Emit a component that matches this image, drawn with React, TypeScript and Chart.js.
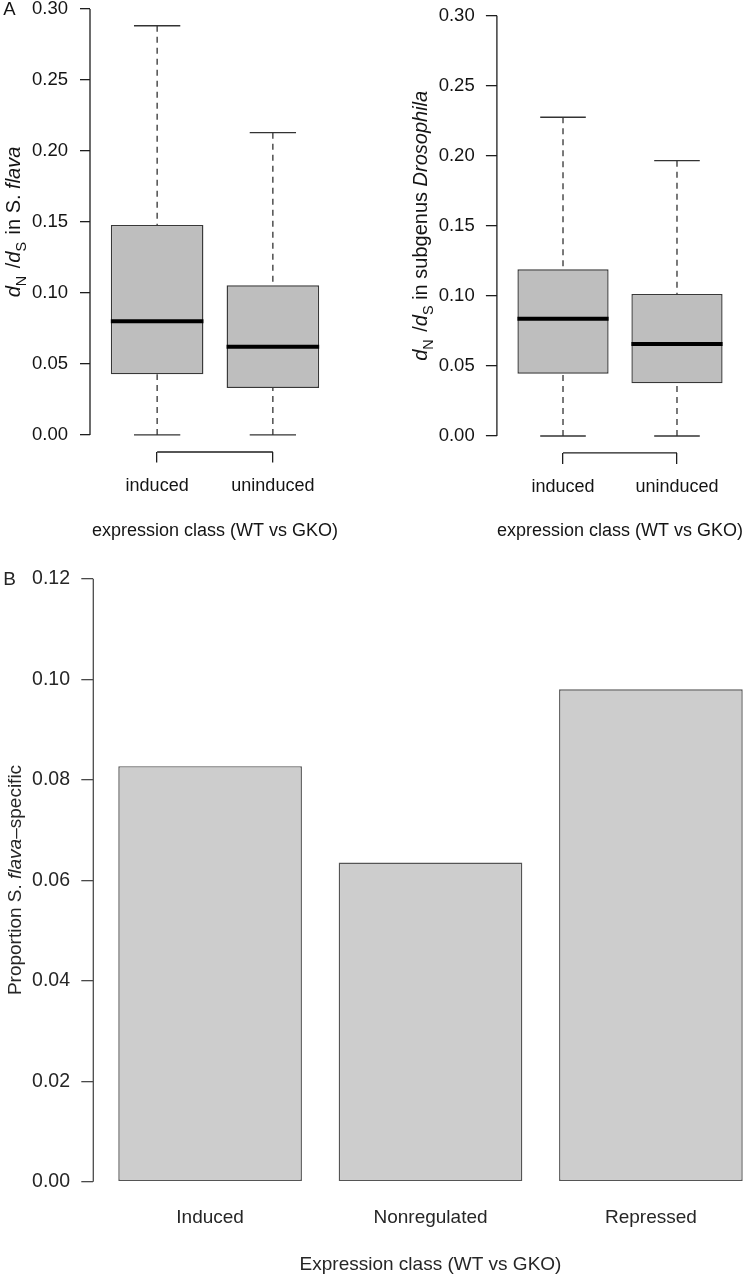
import React, { useEffect, useRef } from "react";
import { Chart, registerables } from "chart.js";

Chart.register(...registerables);

const FONT = "'Liberation Sans', Arial, Helvetica, sans-serif";

// ---------------- Panel A data ----------------
const boxCategories = ["induced", "uninduced"];
const boxYTicks = [0, 0.05, 0.1, 0.15, 0.2, 0.25, 0.3];

// dN/dS in S. flava
const flavaMin = [0, 0];
const flavaQ1 = [0.0427, 0.0331];
const flavaMedian = [0.0801, 0.0622];
const flavaQ3 = [0.1479, 0.1054];
const flavaMax = [0.2882, 0.2129];

// dN/dS in subgenus Drosophila
const drosMin = [0, 0];
const drosQ1 = [0.0445, 0.0376];
const drosMedian = [0.0837, 0.0657];
const drosQ3 = [0.119, 0.1014];
const drosMax = [0.2275, 0.1965];

const boxXTitle = "expression class (WT vs GKO)";

// ---------------- Panel B data ----------------
const barCategories = ["Induced", "Nonregulated", "Repressed"];
const barValues = [0.0827, 0.0635, 0.098];
const barYTicks = [0, 0.02, 0.04, 0.06, 0.08, 0.1, 0.12];
const barXTitle = "Expression class (WT vs GKO)";

// ---------------- helpers ----------------
type Run = { text: string; italic?: boolean; sub?: boolean; gap?: number };

const flavaTitle: Run[] = [
  { text: "d", italic: true },
  { text: "N", sub: true },
  { text: " /", gap: 2 },
  { text: "d", italic: true },
  { text: "S", sub: true },
  { text: " in S. ", gap: 2 },
  { text: "flava", italic: true },
];
const drosTitle: Run[] = [
  { text: "d", italic: true },
  { text: "N", sub: true },
  { text: " /", gap: 2 },
  { text: "d", italic: true },
  { text: "S", sub: true },
  { text: " in subgenus " },
  { text: "Drosophila", italic: true },
];
const barTitle: Run[] = [
  { text: "Proportion S. " },
  { text: "flava", italic: true },
  { text: "\u2013specific" },
];

function drawVerticalRich(
  ctx: CanvasRenderingContext2D,
  runs: Run[],
  baselineX: number,
  centerY: number,
  size: number,
  color: string
) {
  ctx.save();
  ctx.translate(baselineX, centerY);
  ctx.rotate(-Math.PI / 2);
  ctx.fillStyle = color;
  ctx.textBaseline = "alphabetic";
  ctx.textAlign = "left";
  const fontOf = (r: Run) =>
    `${r.italic ? "italic " : ""}${r.sub ? size * 0.72 : size}px ${FONT}`;
  const widths = runs.map((r) => {
    ctx.font = fontOf(r);
    return ctx.measureText(r.text).width + (r.gap || 0);
  });
  const total = widths.reduce((a, b) => a + b, 0);
  let x = -total / 2;
  runs.forEach((r, i) => {
    ctx.font = fontOf(r);
    ctx.fillText(r.text, x + (r.gap || 0), r.sub ? size * 0.28 : 0);
    x += widths[i];
  });
  ctx.restore();
}

function seg(ctx: CanvasRenderingContext2D, x1: number, y1: number, x2: number, y2: number) {
  ctx.beginPath();
  ctx.moveTo(x1, y1);
  ctx.lineTo(x2, y2);
  ctx.stroke();
}

interface BoxSpec {
  min: number[];
  q1: number[];
  med: number[];
  q3: number[];
  max: number[];
  title: Run[];
  letter?: string;
  yAxisWidth: number;
  padRight: number;
  padTop: number;
  xAxisHeight: number;
  xTickLen: number;
  yTickLen: number;
  xLabelPad: number;
  yLabelPad: number;
  titlePadBottom: number;
  yTitleX: number;
  yTitleY: number;
}

const TEXT = "#141414";
const AXIS = "#1e1e1e";
const HALF_BOX = 0.4;
const HALF_STAPLE = 0.2;

function makeBoxConfig(spec: BoxSpec): any {
  const plugin = {
    id: "boxExtras",
    afterDatasetsDraw(chart: any) {
      const { ctx } = chart;
      const xs = chart.scales.x;
      const ys = chart.scales.y;
      const px = (v: number) => xs.getPixelForValue(v);
      const py = (v: number) => ys.getPixelForValue(v);
      ctx.save();
      ctx.lineCap = "butt";
      spec.med.forEach((m, i) => {
        const c = i + 1;
        const xc = px(c);
        ctx.strokeStyle = "#222";
        ctx.lineWidth = 1.2;
        ctx.setLineDash([6, 5]);
        seg(ctx, xc, py(spec.min[i]), xc, py(spec.q1[i]));
        seg(ctx, xc, py(spec.max[i]), xc, py(spec.q3[i]));
        ctx.setLineDash([]);
        ctx.strokeStyle = "#333";
        ctx.lineWidth = 1.3;
        seg(ctx, px(c - HALF_STAPLE), py(spec.min[i]), px(c + HALF_STAPLE), py(spec.min[i]));
        seg(ctx, px(c - HALF_STAPLE), py(spec.max[i]), px(c + HALF_STAPLE), py(spec.max[i]));
        ctx.strokeStyle = "#000";
        ctx.lineWidth = 4;
        seg(ctx, px(c - HALF_BOX), py(m), px(c + HALF_BOX), py(m));
      });
      ctx.restore();
    },
    afterDraw(chart: any) {
      const { ctx, chartArea } = chart;
      const xs = chart.scales.x;
      const ys = chart.scales.y;
      ctx.save();
      ctx.strokeStyle = AXIS;
      ctx.lineWidth = 1.3;
      // y axis line spanning the ticks
      seg(
        ctx,
        chartArea.left,
        ys.getPixelForValue(boxYTicks[0]),
        chartArea.left,
        ys.getPixelForValue(boxYTicks[boxYTicks.length - 1])
      );
      // x axis line between first and last category
      seg(
        ctx,
        xs.getPixelForValue(1),
        chartArea.bottom,
        xs.getPixelForValue(boxCategories.length),
        chartArea.bottom
      );
      ctx.restore();
      drawVerticalRich(ctx, spec.title, spec.yTitleX, spec.yTitleY, 20, TEXT);
      if (spec.letter) {
        ctx.save();
        ctx.fillStyle = TEXT;
        ctx.font = `18.5px ${FONT}`;
        ctx.textAlign = "center";
        ctx.textBaseline = "middle";
        ctx.fillText(spec.letter, 9.5, 10);
        ctx.restore();
      }
    },
  };

  return {
    type: "bar",
    data: {
      datasets: [
        {
          data: boxCategories.map((_, i) => ({ x: i + 1, y: [spec.q1[i], spec.q3[i]] })),
          backgroundColor: "#bebebe",
          borderColor: "#383838",
          borderWidth: 1.4,
          borderSkipped: false,
          barPercentage: 0.8,
          categoryPercentage: 1,
        },
      ],
    },
    options: {
      animation: false,
      responsive: false,
      maintainAspectRatio: false,
      devicePixelRatio: 1,
      layout: {
        autoPadding: false,
        padding: { top: spec.padTop, left: 0, right: spec.padRight, bottom: 0 },
      },
      plugins: { legend: { display: false }, tooltip: { enabled: false }, title: { display: false } },
      scales: {
        x: {
          type: "linear",
          position: "bottom",
          min: 0.42,
          max: boxCategories.length + 0.58,
          offset: false,
          afterBuildTicks: (axis: any) => {
            axis.ticks = boxCategories.map((_, i) => ({ value: i + 1 }));
          },
          afterFit: (axis: any) => {
            axis.height = spec.xAxisHeight;
            axis.paddingLeft = 0;
            axis.paddingRight = 0;
          },
          ticks: {
            autoSkip: false,
            maxRotation: 0,
            minRotation: 0,
            padding: spec.xLabelPad,
            color: TEXT,
            font: { family: FONT, size: 18 },
            callback: (_v: any, idx: number) => boxCategories[idx],
          },
          grid: {
            offset: false,
            drawOnChartArea: false,
            drawTicks: true,
            tickLength: spec.xTickLen,
            color: AXIS,
            lineWidth: 1.3,
          },
          border: { display: false },
          title: {
            display: true,
            text: boxXTitle,
            color: TEXT,
            font: { family: FONT, size: 18 },
            padding: { top: 0, bottom: spec.titlePadBottom },
          },
        },
        y: {
          type: "linear",
          position: "left",
          min: -0.012,
          max: boxYTicks[boxYTicks.length - 1],
          afterBuildTicks: (axis: any) => {
            axis.ticks = boxYTicks.map((v) => ({ value: v }));
          },
          afterFit: (axis: any) => {
            axis.width = spec.yAxisWidth;
            axis.paddingTop = 0;
            axis.paddingBottom = 0;
          },
          ticks: {
            padding: spec.yLabelPad,
            color: TEXT,
            font: { family: FONT, size: 18.5 },
            callback: (v: any) => Number(v).toFixed(2),
          },
          grid: {
            offset: false,
            drawOnChartArea: false,
            drawTicks: true,
            tickLength: spec.yTickLen,
            color: AXIS,
            lineWidth: 1.3,
          },
          border: { display: false },
        },
      },
    },
    plugins: [plugin],
  };
}

function makeBarConfig(): any {
  const BAR_TEXT = "#262626";
  const BAR_AXIS = "#4a4a4a";
  // R barplot layout: bar width 1, space 0.2 -> centres at 0.7, 1.9, 3.1
  const centres = barCategories.map((_, i) => 0.7 + 1.2 * i);
  const plugin = {
    id: "barExtras",
    afterDraw(chart: any) {
      const { ctx, chartArea } = chart;
      const ys = chart.scales.y;
      ctx.save();
      ctx.strokeStyle = BAR_AXIS;
      ctx.lineWidth = 1.3;
      seg(
        ctx,
        chartArea.left,
        ys.getPixelForValue(barYTicks[0]),
        chartArea.left,
        ys.getPixelForValue(barYTicks[barYTicks.length - 1])
      );
      ctx.restore();
      drawVerticalRich(ctx, barTitle, 20.5, 330, 19, BAR_TEXT);
      ctx.save();
      ctx.fillStyle = BAR_TEXT;
      ctx.font = `19px ${FONT}`;
      ctx.textAlign = "center";
      ctx.textBaseline = "middle";
      ctx.fillText("B", 9.5, 29.5);
      ctx.restore();
    },
  };
  return {
    type: "bar",
    data: {
      datasets: [
        {
          data: barCategories.map((_, i) => ({ x: centres[i], y: barValues[i] })),
          backgroundColor: "#cdcdcd",
          borderColor: "#555",
          borderWidth: 1.4,
          borderSkipped: false,
          barPercentage: 1 / 1.2,
          categoryPercentage: 1,
        },
      ],
    },
    options: {
      animation: false,
      responsive: false,
      maintainAspectRatio: false,
      devicePixelRatio: 1,
      layout: { autoPadding: false, padding: { top: 28.7, left: 0, right: 2.3, bottom: 0 } },
      plugins: { legend: { display: false }, tooltip: { enabled: false } },
      scales: {
        x: {
          type: "linear",
          position: "bottom",
          min: 0.064,
          max: 3.736,
          offset: false,
          afterBuildTicks: (axis: any) => {
            axis.ticks = centres.map((v) => ({ value: v }));
          },
          afterFit: (axis: any) => {
            axis.height = 73.2;
            axis.paddingLeft = 0;
            axis.paddingRight = 0;
          },
          ticks: {
            autoSkip: false,
            maxRotation: 0,
            minRotation: 0,
            padding: 1,
            color: BAR_TEXT,
            font: { family: FONT, size: 19 },
            callback: (_v: any, idx: number) => barCategories[idx],
          },
          grid: { display: false, drawTicks: false, offset: false },
          border: { display: false },
          title: {
            display: true,
            text: barXTitle,
            color: BAR_TEXT,
            font: { family: FONT, size: 19 },
            padding: { top: 0, bottom: 2.6 },
          },
        },
        y: {
          type: "linear",
          position: "left",
          min: -0.0048,
          max: barYTicks[barYTicks.length - 1],
          afterBuildTicks: (axis: any) => {
            axis.ticks = barYTicks.map((v) => ({ value: v }));
          },
          afterFit: (axis: any) => {
            axis.width = 93.3;
            axis.paddingTop = 0;
            axis.paddingBottom = 0;
          },
          ticks: {
            padding: 11.3,
            color: BAR_TEXT,
            font: { family: FONT, size: 19.5 },
            callback: (v: any) => Number(v).toFixed(2),
          },
          grid: {
            offset: false,
            drawOnChartArea: false,
            drawTicks: true,
            tickLength: 12,
            color: BAR_AXIS,
            lineWidth: 1.3,
          },
          border: { display: false },
        },
      },
    },
    plugins: [plugin],
  };
}

function ChartCanvas(props: { make: () => any; left: number; top: number; width: number; height: number }) {
  const ref = useRef<HTMLCanvasElement>(null);
  useEffect(() => {
    const chart = new Chart(ref.current as HTMLCanvasElement, props.make());
    return () => chart.destroy();
  }, []);
  return (
    <canvas
      ref={ref}
      width={props.width}
      height={props.height}
      style={{
        position: "absolute",
        left: props.left,
        top: props.top,
        width: props.width,
        height: props.height,
        display: "block",
      }}
    />
  );
}

export default function App() {
  return (
    <div
      style={{
        position: "absolute",
        left: 0,
        top: 0,
        width: 746,
        height: 1279,
        overflow: "hidden",
        background: "#fff",
      }}
    >
      <ChartCanvas
        left={0}
        top={0}
        width={373}
        height={550}
        make={() =>
          makeBoxConfig({
            min: flavaMin,
            q1: flavaQ1,
            med: flavaMedian,
            q3: flavaQ3,
            max: flavaMax,
            title: flavaTitle,
            letter: "A",
            yAxisWidth: 90,
            padRight: 33,
            padTop: 9,
            xAxisHeight: 98,
            xTickLen: 10.6,
            yTickLen: 10,
            xLabelPad: 12.6,
            yLabelPad: 12,
            titlePadBottom: 8.2,
            yTitleX: 20,
            yTitleY: 222,
          })
        }
      />
      <ChartCanvas
        left={373}
        top={0}
        width={373}
        height={550}
        make={() =>
          makeBoxConfig({
            min: drosMin,
            q1: drosQ1,
            med: drosMedian,
            q3: drosQ3,
            max: drosMax,
            title: drosTitle,
            yAxisWidth: 123.9,
            padRight: 2.9,
            padTop: 15.7,
            xAxisHeight: 97.2,
            xTickLen: 11.2,
            yTickLen: 11,
            xLabelPad: 11.9,
            yLabelPad: 11.2,
            titlePadBottom: 8.5,
            yTitleX: 54,
            yTitleY: 225.8,
          })
        }
      />
      <ChartCanvas left={0} top={550} width={770} height={729} make={makeBarConfig} />
    </div>
  );
}
